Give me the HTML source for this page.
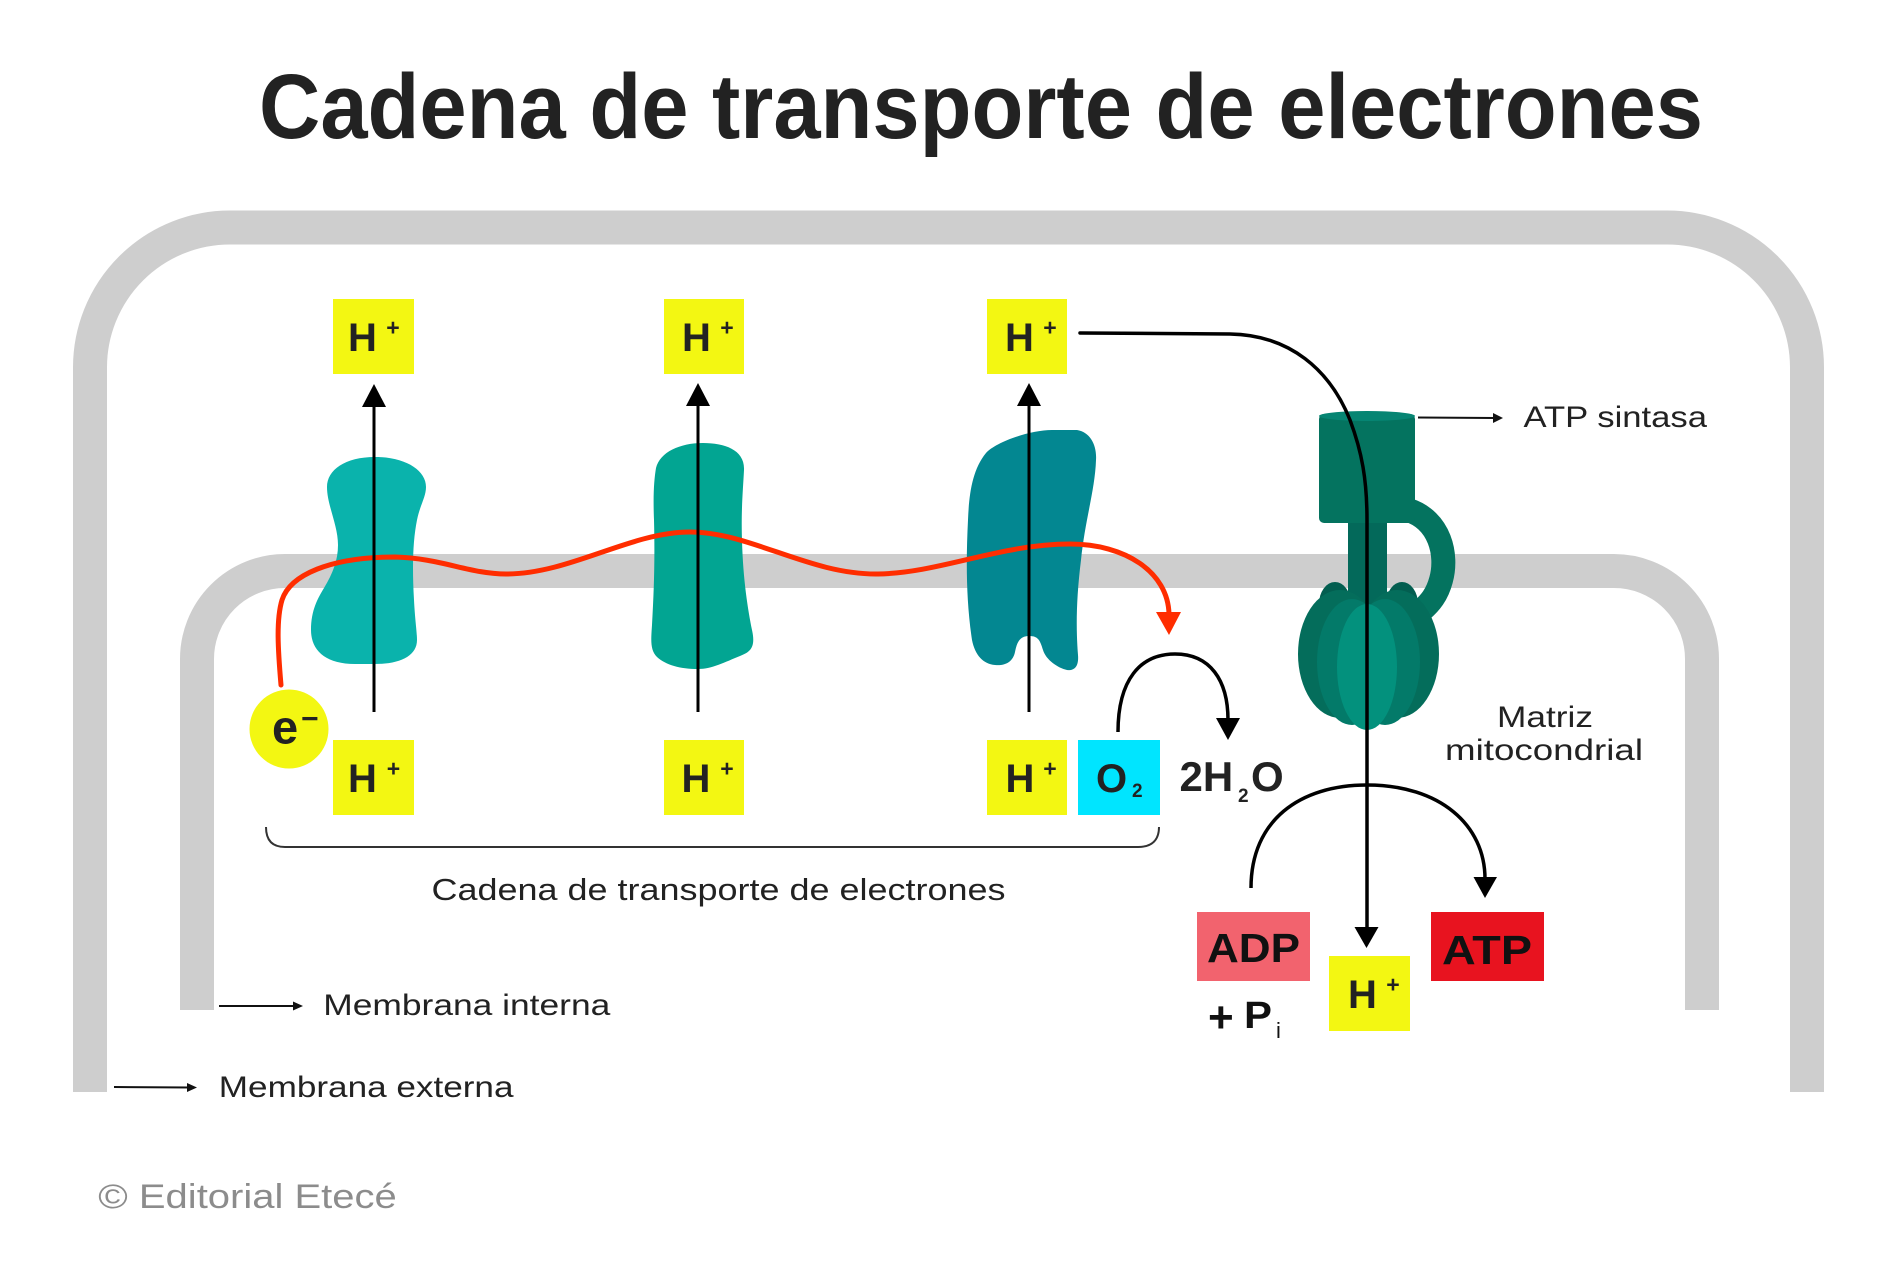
<!DOCTYPE html>
<html>
<head>
<meta charset="utf-8">
<style>
html,body{margin:0;padding:0;background:#fff;}
svg{display:block;}
text{font-family:"Liberation Sans",Arial,sans-serif;}
</style>
</head>
<body>
<svg width="1885" height="1265" viewBox="0 0 1885 1265" xmlns="http://www.w3.org/2000/svg">
<rect width="1885" height="1265" fill="#fff"/>

<!-- Title -->
<text x="259" y="138" font-size="92" font-weight="bold" fill="#222" textLength="1444" lengthAdjust="spacingAndGlyphs">Cadena de transporte de electrones</text>

<!-- Membranes -->
<path d="M90,1092 L90,367 A140,140 0 0 1 230,227.5 L1667,227.5 A140,140 0 0 1 1807,367 L1807,1092" fill="none" stroke="#cecece" stroke-width="34"/>
<path d="M197,1010 L197,659 A88,88 0 0 1 285,571 L1614,571 A88,88 0 0 1 1702,659 L1702,1010" fill="none" stroke="#cecece" stroke-width="34"/>

<!-- Proteins -->
<path d="M375,457 C405,457 426,470 426,487 C426,497 420,505 417,520 C413,540 412,565 414,600 C415,620 417,632 417,640 C417,656 400,664 375,664 L355,664 C325,664 311,650 311,630 C311,610 318,598 324,588 C333,573 338,560 338,545 C338,525 327,505 327,487 C327,470 345,457 375,457 Z" fill="#0ab3ac"/>
<path d="M703,443 C725,443 745,450 744,470 C743,490 741,510 742,540 C743,580 748,610 752,630 C756,648 750,652 740,656 C725,662 712,669 698,669 C680,669 666,665 657,657 C650,650 651,640 652,625 C654,590 655,560 654,520 C653,495 654,480 656,468 C660,452 680,443 703,443 Z" fill="#02a592"/>
<path d="M1052,430 L1077,430 C1090,432 1097,445 1096,460 C1095,490 1085,520 1081,560 C1076,600 1076,630 1078,655 C1079,667 1074,671 1067,670 C1058,668 1046,660 1043,650 C1040,640 1038,636 1029,636 C1020,636 1017,642 1015,652 C1013,662 1005,666 995,665 C983,664 975,655 972,640 C966,600 966,560 968,520 C969,495 972,470 986,453 C996,442 1030,430 1052,430 Z" fill="#038791"/>

<!-- ATP synthase -->
<ellipse cx="1335" cy="604" rx="16" ry="22" fill="#035e50"/>
<ellipse cx="1402" cy="604" rx="16" ry="22" fill="#035e50"/>
<rect x="1348" y="515" width="39" height="95" rx="8" fill="#03695a"/>
<path d="M1408,510 C1440,520 1448,555 1441,580 C1437,595 1430,603 1422,610" fill="none" stroke="#04735f" stroke-width="24"/>
<rect x="1319" y="414" width="96" height="109" rx="5" fill="#04735f"/>
<ellipse cx="1367" cy="416" rx="48" ry="5" fill="#068573"/>
<ellipse cx="1340" cy="654" rx="42" ry="64" fill="#046d5b"/>
<ellipse cx="1397" cy="654" rx="42" ry="64" fill="#046d5b"/>
<ellipse cx="1352" cy="662" rx="35" ry="63" fill="#037a69"/>
<ellipse cx="1385" cy="662" rx="35" ry="63" fill="#037a69"/>
<ellipse cx="1367" cy="667" rx="30" ry="63" fill="#03917d"/>

<!-- Red electron path -->
<path d="M281,685 C278,650 276,620 282,600 C290,575 330,557 395,557 C440,558 470,574 506,574 C570,574 630,532 690,532 C750,532 810,575 878,574 C940,573 1000,544 1070,544 C1125,544 1168,572 1169,614" fill="none" stroke="#ff2d00" stroke-width="5" stroke-linecap="round"/>
<polygon points="1156,612 1181,612 1169,635" fill="#ff2d00"/>

<!-- Vertical proton arrows -->
<g stroke="#000" stroke-width="3" fill="none">
<line x1="374" y1="404" x2="374" y2="712"/>
<line x1="698" y1="404" x2="698" y2="712"/>
<line x1="1029" y1="404" x2="1029" y2="712"/>
</g>
<polygon points="362,407 386,407 374,384" fill="#000"/>
<polygon points="686,406 710,406 698,383" fill="#000"/>
<polygon points="1017,406 1041,406 1029,383" fill="#000"/>

<!-- Curve through ATP synthase -->
<path d="M1080,333 L1230,334 C1290,335 1330,370 1350,420 C1362,452 1367,480 1367,520 L1367,930" fill="none" stroke="#000" stroke-width="3.5" stroke-linecap="round"/>
<polygon points="1354.5,927 1378.5,927 1366.5,948" fill="#000"/>

<!-- O2 -> 2H2O arc -->
<path d="M1118,732 C1118,680 1140,654 1175,654 C1210,654 1228,680 1228,720" fill="none" stroke="#000" stroke-width="3.5"/>
<polygon points="1216,718 1240,718 1228,740" fill="#000"/>

<!-- ADP -> ATP arc -->
<path d="M1251,888 C1251,820 1300,785 1367,785 C1440,785 1485,825 1485,879" fill="none" stroke="#000" stroke-width="3.5"/>
<polygon points="1473.5,877 1497,877 1485,898" fill="#000"/>

<!-- Bracket -->
<path d="M266,827 C266,840 272,847 285,847 L1138,847 C1152,847 1159,840 1159,827" fill="none" stroke="#333" stroke-width="2"/>

<!-- e- -->
<circle cx="289" cy="729" r="39.5" fill="#f3f712"/>
<text x="272" y="743.5" font-size="47" font-weight="bold" fill="#222">e</text>
<text x="301" y="728.4" font-size="30" font-weight="bold" fill="#222">−</text>

<!-- H+ boxes top -->
<g fill="#f3f712">
<rect x="333" y="299" width="81" height="75"/>
<rect x="664" y="299" width="80" height="75"/>
<rect x="987" y="299" width="80" height="75"/>
<rect x="333" y="740" width="81" height="75"/>
<rect x="664" y="740" width="80" height="75"/>
<rect x="987" y="740" width="80" height="75"/>
<rect x="1329" y="956" width="81" height="75"/>
</g>
<g font-weight="bold" fill="#222">
<text x="348" y="351" font-size="40">H</text>
<text x="393" y="335.5" font-size="23" text-anchor="middle">+</text>
<text x="682" y="351" font-size="40">H</text>
<text x="727" y="335.5" font-size="23" text-anchor="middle">+</text>
<text x="1005" y="351" font-size="40">H</text>
<text x="1050" y="335.5" font-size="23" text-anchor="middle">+</text>
<text x="348" y="792" font-size="40">H</text>
<text x="393.5" y="776.5" font-size="23" text-anchor="middle">+</text>
<text x="681.5" y="792" font-size="40">H</text>
<text x="727" y="776.5" font-size="23" text-anchor="middle">+</text>
<text x="1005.5" y="792" font-size="40">H</text>
<text x="1050" y="776.5" font-size="23" text-anchor="middle">+</text>
<text x="1348" y="1008" font-size="40">H</text>
<text x="1393" y="992.5" font-size="23" text-anchor="middle">+</text>
</g>

<!-- O2 -->
<rect x="1078" y="740" width="82" height="75" fill="#00e5ff"/>
<text x="1096" y="792" font-size="40" font-weight="bold" fill="#222">O</text>
<text x="1132" y="797" font-size="19" font-weight="bold" fill="#222">2</text>

<!-- 2H2O -->
<text x="1179.5" y="791" font-size="42" font-weight="bold" fill="#222">2H</text>
<text x="1238" y="802" font-size="19" font-weight="bold" fill="#222">2</text>
<text x="1251" y="791" font-size="42" font-weight="bold" fill="#222">O</text>

<!-- ADP / ATP -->
<rect x="1197" y="912" width="113" height="69" fill="#f2636e"/>
<text x="1207" y="962" font-size="41" font-weight="bold" fill="#111" textLength="93" lengthAdjust="spacingAndGlyphs">ADP</text>
<rect x="1431" y="912" width="113" height="69" fill="#e8131f"/>
<text x="1442" y="964" font-size="41" font-weight="bold" fill="#111" textLength="90" lengthAdjust="spacingAndGlyphs">ATP</text>

<!-- +Pi -->
<text x="1208" y="1032" font-size="44" font-weight="bold" fill="#111">+</text>
<text x="1244" y="1028" font-size="38" font-weight="bold" fill="#111" textLength="28" lengthAdjust="spacingAndGlyphs">P</text>
<text x="1276" y="1038" font-size="22" fill="#111">i</text>

<!-- Labels -->
<line x1="1418" y1="417.5" x2="1495" y2="418" stroke="#111" stroke-width="2"/>
<polygon points="1493,413 1503,418 1493,423" fill="#111"/>
<text x="1523.5" y="427" font-size="30" fill="#222" textLength="183.5" lengthAdjust="spacingAndGlyphs">ATP sintasa</text>

<text x="1497" y="727" font-size="30" fill="#222" textLength="96" lengthAdjust="spacingAndGlyphs">Matriz</text>
<text x="1445" y="760" font-size="30" fill="#222" textLength="198" lengthAdjust="spacingAndGlyphs">mitocondrial</text>

<text x="431.5" y="900" font-size="31" fill="#222" textLength="574" lengthAdjust="spacingAndGlyphs">Cadena de transporte de electrones</text>

<line x1="219" y1="1006" x2="296" y2="1006" stroke="#111" stroke-width="2"/>
<polygon points="293,1001.5 303,1006 293,1010.5" fill="#111"/>
<text x="323.3" y="1015" font-size="30" fill="#222" textLength="287" lengthAdjust="spacingAndGlyphs">Membrana interna</text>

<line x1="114" y1="1087" x2="190" y2="1087.5" stroke="#111" stroke-width="2"/>
<polygon points="187,1083 197,1087.5 187,1092" fill="#111"/>
<text x="218.8" y="1097" font-size="30" fill="#222" textLength="294.7" lengthAdjust="spacingAndGlyphs">Membrana externa</text>

<text x="98.3" y="1208" font-size="34" fill="#8c8c8c" textLength="298.5" lengthAdjust="spacingAndGlyphs">© Editorial Etecé</text>
</svg>
</body>
</html>
